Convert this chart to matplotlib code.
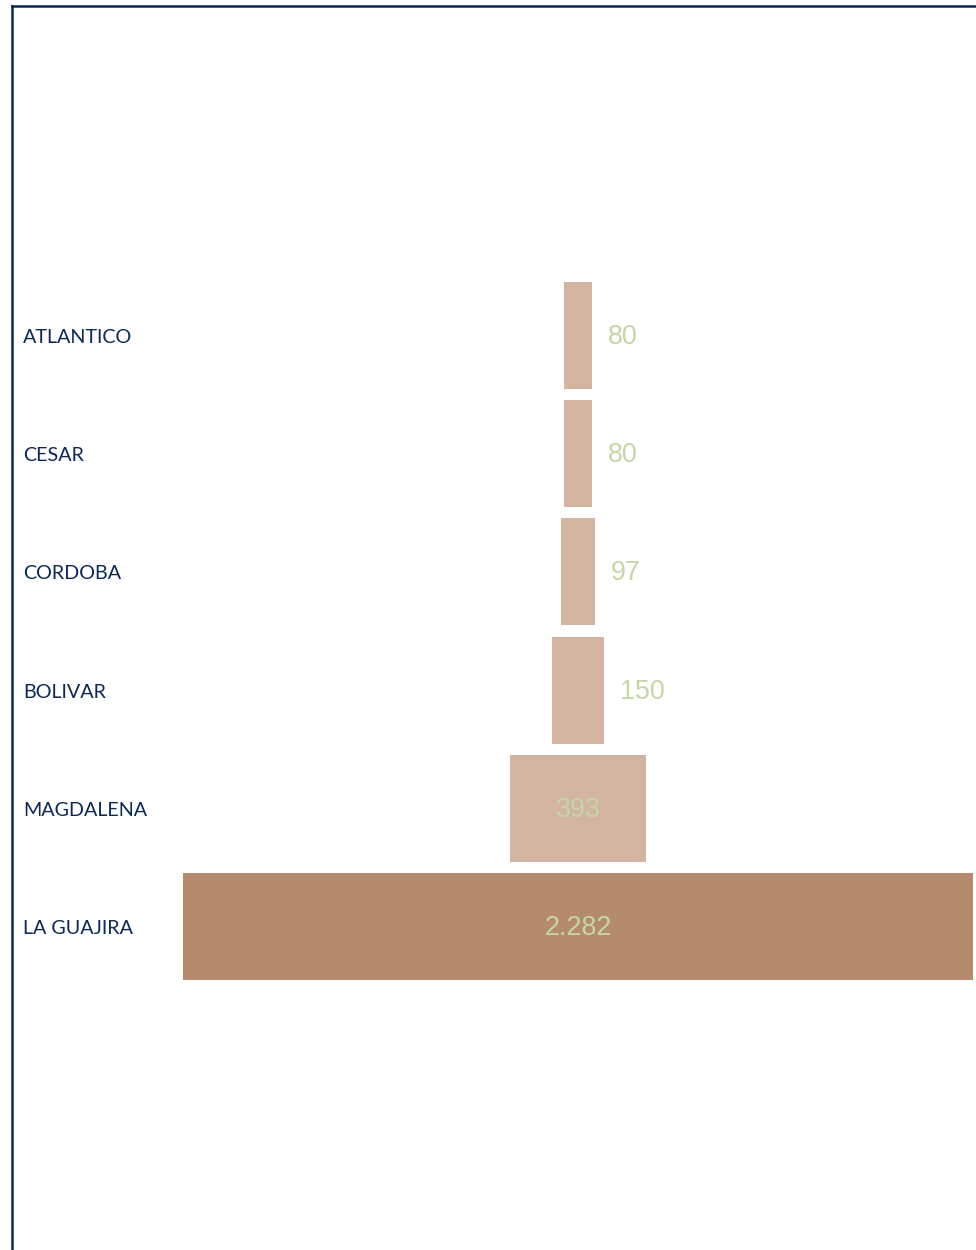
import matplotlib
matplotlib.use("Agg")
import matplotlib.pyplot as plt
from matplotlib.lines import Line2D

categories = ["ATLANTICO", "CESAR", "CORDOBA", "BOLIVAR", "MAGDALENA", "LA GUAJIRA"]
values = [80, 80, 97, 150, 393, 2282]
value_labels = ["80", "80", "97", "150", "393", "2.282"]
bar_colors = ["#d2b4a0", "#d2b4a0", "#d2b4a0", "#d2b4a0", "#d2b4a0", "#b68b6d"]

W, H = 976, 1250
DPI = 100
fig = plt.figure(figsize=(W / DPI, H / DPI), dpi=DPI)
fig.patch.set_facecolor("white")

# axes spanning the bar region
left_px, right_px = 183, 973
ax = fig.add_axes([left_px / W, 0, (right_px - left_px) / W, 1])
ax.set_axis_off()
vmax = max(values)
ax.set_xlim(-vmax / 2, vmax / 2)
row0, step = 335.5, 118.2
ax.set_ylim((H - row0) / step, -row0 / step)

ypos = list(range(len(categories)))
ax.barh(ypos, values, left=[-v / 2 for v in values], height=107 / step,
        color=bar_colors, edgecolor="none")

label_color = "#c5d6a5"
px = vmax / (right_px - left_px)  # data units per pixel
for i, (v, lab) in enumerate(zip(values, value_labels)):
    yv = i + 1.5 / step
    if v * (1 / px) > 100:
        ax.text(0, yv, lab, ha="center", va="center", fontsize=19.4,
                family="Liberation Sans", color=label_color)
    else:
        ax.text(v / 2 + 16 * px, yv, lab, ha="left", va="center", fontsize=19.4,
                family="Liberation Sans", color=label_color)

navy = "#0b2856"
for i, c in enumerate(categories):
    y_fig = 1 - (row0 + step * i + 2) / H
    fig.text(23 / W, y_fig, c, ha="left", va="center", fontsize=14.2,
             family="Lato", color=navy)

# border lines (left and top)
fig.add_artist(Line2D([12 / W, 12 / W], [0, 1 - 6 / H], color=navy, lw=1.8,
                      transform=fig.transFigure, solid_capstyle="projecting"))
fig.add_artist(Line2D([12 / W, 975 / W], [1 - 6 / H, 1 - 6 / H], color=navy, lw=1.8,
                      transform=fig.transFigure, solid_capstyle="projecting"))

fig.savefig("out.png", dpi=DPI, facecolor="white")
